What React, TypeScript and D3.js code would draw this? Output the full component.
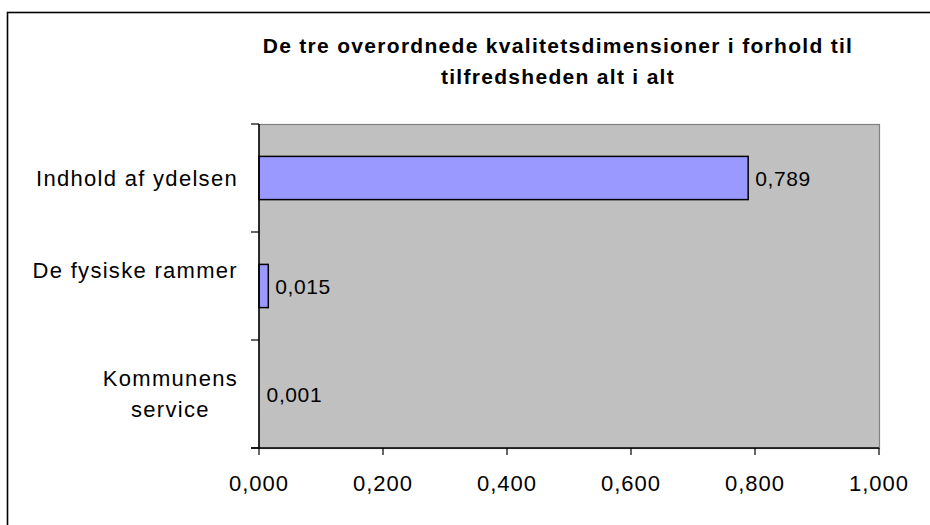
import React, { useEffect, useRef } from "react";
import * as d3 from "d3";

const categories: string[][] = [
  ["Indhold af ydelsen"],
  ["De fysiske rammer", ""],
  ["Kommunens", "service"],
];
const values: number[] = [0.789, 0.015, 0.001];
const xTicks: number[] = [0, 0.2, 0.4, 0.6, 0.8, 1.0];
const titleLines: string[] = [
  "De tre overordnede kvalitetsdimensioner i forhold til",
  "tilfredsheden alt i alt",
];

const W = 930;
const H = 525;
const plot = { left: 259, right: 879, top: 124, bottom: 448 };
const FONT = "'Liberation Sans', Arial, sans-serif";
const fmt = (v: number) => v.toFixed(3).replace(".", ",");

export default function App() {
  const ref = useRef<SVGSVGElement | null>(null);

  useEffect(() => {
    const svg = d3.select(ref.current);
    svg.selectAll("*").remove();

    const x = d3.scaleLinear().domain([0, 1]).range([plot.left, plot.right]);
    const y = d3
      .scaleBand<number>()
      .domain(d3.range(categories.length))
      .range([plot.top, plot.bottom])
      .paddingInner(0.6)
      .paddingOuter(0.3);
    const band = d3
      .scaleBand<number>()
      .domain(d3.range(categories.length))
      .range([plot.top, plot.bottom]);

    // outer frame
    svg
      .append("rect")
      .attr("x", 7.5)
      .attr("y", 12.5)
      .attr("width", 1200)
      .attr("height", 1200)
      .attr("fill", "#fff")
      .attr("stroke", "#000")
      .attr("stroke-width", 1.6);

    // title
    const title = svg
      .append("text")
      .attr("font-family", FONT)
      .attr("font-weight", "bold")
      .attr("font-size", 21)
      .attr("letter-spacing", 1.3)
      .attr("text-anchor", "middle")
      .attr("fill", "#000");
    titleLines.forEach((t, i) => {
      title
        .append("tspan")
        .attr("x", 558)
        .attr("y", 53 + i * 31)
        .text(t);
    });

    // plot area
    svg
      .append("rect")
      .attr("x", plot.left)
      .attr("y", plot.top + 0.5)
      .attr("width", plot.right - plot.left + 0.5)
      .attr("height", plot.bottom - plot.top)
      .attr("fill", "#C0C0C0")
      .attr("stroke", "#808080")
      .attr("stroke-width", 1.2);

    // bars
    svg
      .append("g")
      .selectAll("rect")
      .data(values)
      .join("rect")
      .attr("x", x(0))
      .attr("y", (_d, i) => y(i)!)
      .attr("width", (d) => x(d) - x(0))
      .attr("height", y.bandwidth())
      .attr("fill", "#9999FF")
      .attr("stroke", "#000")
      .attr("stroke-width", (d) => (x(d) - x(0) < 2 ? 0 : 1.5));

    // value labels
    svg
      .append("g")
      .selectAll("text")
      .data(values)
      .join("text")
      .attr("x", (d) => x(d) + 7)
      .attr("y", (_d, i) => band(i)! + band.bandwidth() / 2)
      .attr("dy", "0.36em")
      .attr("font-family", FONT)
      .attr("font-size", 21)
      .attr("letter-spacing", 0.6)
      .attr("fill", "#000")
      .text((d) => fmt(d));

    // y axis line and ticks
    svg
      .append("line")
      .attr("x1", plot.left)
      .attr("x2", plot.left)
      .attr("y1", plot.top)
      .attr("y2", plot.bottom)
      .attr("stroke", "#000")
      .attr("stroke-width", 1.5);
    const yTickPos = [plot.top, ...categories.map((_c, i) => band(i)! + band.bandwidth())];
    svg
      .append("g")
      .selectAll("line")
      .data(yTickPos)
      .join("line")
      .attr("x1", plot.left - 8)
      .attr("x2", plot.left)
      .attr("y1", (d) => d)
      .attr("y2", (d) => d)
      .attr("stroke", "#000")
      .attr("stroke-width", 1.2);

    // x axis line and ticks
    svg
      .append("line")
      .attr("x1", plot.left - 8)
      .attr("x2", plot.right)
      .attr("y1", plot.bottom)
      .attr("y2", plot.bottom)
      .attr("stroke", "#000")
      .attr("stroke-width", 1.5);
    const xt = svg.append("g");
    xt.selectAll("line")
      .data(xTicks)
      .join("line")
      .attr("x1", (d) => x(d))
      .attr("x2", (d) => x(d))
      .attr("y1", plot.bottom)
      .attr("y2", plot.bottom + 7)
      .attr("stroke", "#000")
      .attr("stroke-width", 1.2);
    xt.selectAll("text")
      .data(xTicks)
      .join("text")
      .attr("x", (d) => x(d))
      .attr("y", 483)
      .attr("dy", "0.36em")
      .attr("text-anchor", "middle")
      .attr("font-family", FONT)
      .attr("font-size", 22)
      .attr("letter-spacing", 1)
      .attr("fill", "#000")
      .text((d) => fmt(d));

    // category labels (block right-aligned, lines centered)
    const labelRight = 238;
    const lineH = 31;
    categories.forEach((lines, i) => {
      const cy = band(i)! + band.bandwidth() / 2;
      const g = svg.append("g");
      const texts = lines.map((ln, j) =>
        g
          .append("text")
          .attr("font-family", FONT)
          .attr("font-size", 22)
          .attr("letter-spacing", 1.3)
          .attr("fill", "#000")
          .attr("text-anchor", "middle")
          .attr("y", cy + (j - (lines.length - 1) / 2) * lineH)
          .attr("dy", "0.36em")
          .text(ln)
      );
      const widths = texts.map((t) => (t.node() as SVGTextElement).getComputedTextLength());
      const maxW = Math.max(...widths);
      texts.forEach((t) => t.attr("x", labelRight - maxW / 2));
    });
  }, []);

  return (
    <svg
      ref={ref}
      width={W}
      height={H}
      style={{ position: "absolute", left: 0, top: 0, background: "#fff" }}
    />
  );
}
